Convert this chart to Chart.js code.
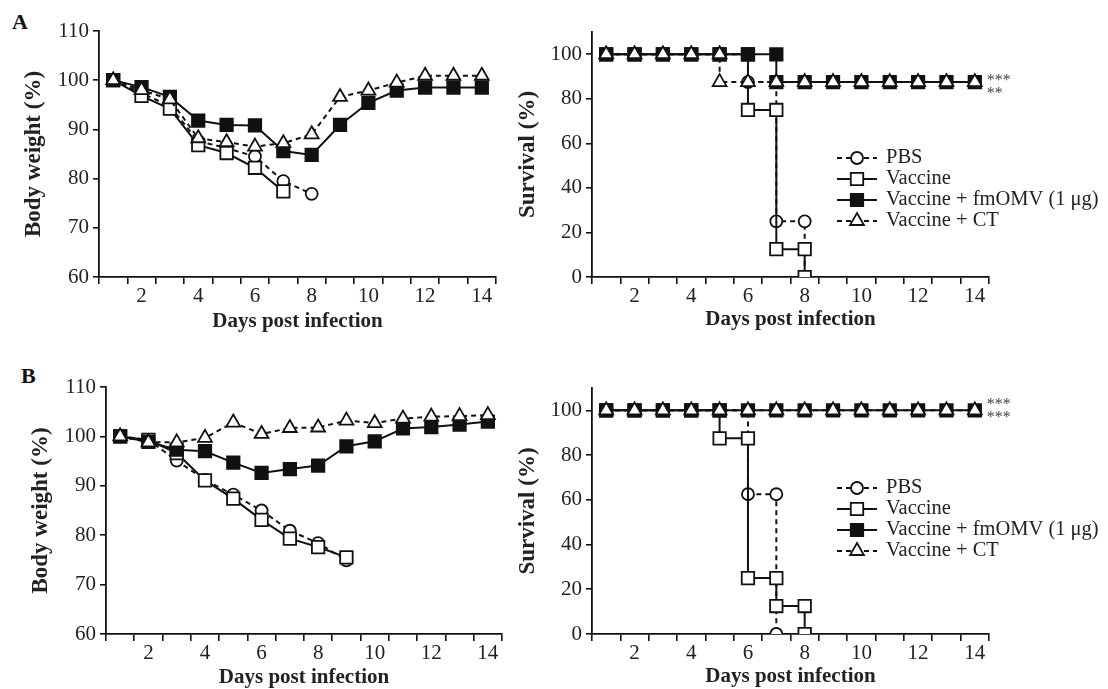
<!DOCTYPE html>
<html>
<head>
<meta charset="utf-8">
<script src="https://cdn.jsdelivr.net/npm/chart.js@4/dist/chart.umd.min.js"></script>
<style>
  body { margin: 0; background: #fff; width: 1108px; height: 689px; position: relative; overflow: hidden; }
  canvas { position: absolute; }
  .panel { position: absolute; font: bold 22px "Liberation Serif", serif; line-height: 22px; color: #111; }
</style>
</head>
<body>
<div class="panel" style="left:12px;top:11px">A</div>
<div class="panel" style="left:21px;top:365px">B</div>
<canvas id="bwA" style="left:0;top:0"></canvas>
<canvas id="svA" style="left:500px;top:0"></canvas>
<canvas id="bwB" style="left:7px;top:356px"></canvas>
<canvas id="svB" style="left:500px;top:356px"></canvas>
<script>
// x categories and which of them carry a label
const dayLabels = ['1', '2', '3', '4', '5', '6', '7', '8', '9', '10', '11', '12', '13', '14'];
const xTickLabels = ['', '2', '', '4', '', '6', '', '8', '', '10', '', '12', '', '14'];
const survivalTicks = [0, 20, 40, 60, 80, 100];

const groupNames = ['PBS', 'Vaccine', 'Vaccine + fmOMV (1 μg)', 'Vaccine + CT'];

// body weight (%), panel A, one value per day from day 1
const bwPbsA = [100, 97.4, 94.7, 87.6, 86.2, 84.5, 79.5, 76.9];
const bwVacA = [100, 96.8, 94.2, 86.8, 85.2, 82.2, 77.4];
const bwFmA  = [100, 98.6, 96.6, 91.8, 90.9, 90.8, 85.6, 84.8, 90.9, 95.4, 97.9, 98.5, 98.5, 98.5];
const bwCtA  = [100, 98.0, 96.1, 88.2, 87.4, 86.5, 87.2, 89.0, 96.6, 97.9, 99.5, 100.9, 100.9, 100.9];

// body weight (%), panel B
const bwPbsB = [100, 99.3, 95.1, 91.2, 88.2, 85.0, 80.9, 78.4, 74.9];
const bwVacB = [100, 99.3, 96.6, 91.1, 87.4, 83.1, 79.3, 77.6, 75.5];
const bwFmB  = [100, 98.9, 97.3, 97.0, 94.7, 92.6, 93.4, 94.1, 98.0, 99.0, 101.6, 101.9, 102.4, 103.0];
const bwCtB  = [100, 98.8, 98.8, 99.7, 102.8, 100.5, 101.7, 101.8, 103.2, 102.7, 103.6, 104.0, 104.1, 104.3];

// survival (%), [day, value]; a drop day appears twice
const svPbsA = [[1, 100], [2, 100], [3, 100], [4, 100], [5, 100], [6, 100], [6, 87.5], [7, 87.5], [7, 25], [8, 25], [8, 0]];
const svVacA = [[1, 100], [2, 100], [3, 100], [4, 100], [5, 100], [6, 100], [6, 75], [7, 75], [7, 12.5], [8, 12.5], [8, 0]];
const svFmA  = [[1, 100], [2, 100], [3, 100], [4, 100], [5, 100], [6, 100], [7, 100], [7, 87.5], [8, 87.5], [9, 87.5], [10, 87.5], [11, 87.5], [12, 87.5], [13, 87.5], [14, 87.5]];
const svCtA  = [[1, 100], [2, 100], [3, 100], [4, 100], [5, 100], [5, 87.5], [6, 87.5], [7, 87.5], [8, 87.5], [9, 87.5], [10, 87.5], [11, 87.5], [12, 87.5], [13, 87.5], [14, 87.5]];

const svPbsB = [[1, 100], [2, 100], [3, 100], [4, 100], [5, 100], [6, 100], [6, 62.5], [7, 62.5], [7, 0]];
const svVacB = [[1, 100], [2, 100], [3, 100], [4, 100], [5, 100], [5, 87.5], [6, 87.5], [6, 25], [7, 25], [7, 12.5], [8, 12.5], [8, 0]];
const svFmB  = [[1, 100], [2, 100], [3, 100], [4, 100], [5, 100], [6, 100], [7, 100], [8, 100], [9, 100], [10, 100], [11, 100], [12, 100], [13, 100], [14, 100]];
const svCtB  = [[1, 100], [2, 100], [3, 100], [4, 100], [5, 100], [6, 100], [7, 100], [8, 100], [9, 100], [10, 100], [11, 100], [12, 100], [13, 100], [14, 100]];

const ink = '#111';
const textColor = '#222';
const serif = '"Liberation Serif", "Times New Roman", serif';
const tickFont = { family: serif, size: 21 };
const xTitleFont = { family: serif, size: 21, weight: 'bold' };
const yTitleFont = { family: serif, size: 23, weight: 'bold' };

const groupStyles = [
    { pointStyle: 'circle', radius: 6.0, fill: '#fff', dash: [5, 4] },
    { pointStyle: 'rect', radius: 8.8, fill: '#fff', dash: [] },
    { pointStyle: 'rect', radius: 8.8, fill: ink, dash: [] },
    { pointStyle: 'triangle', radius: 8.0, fill: '#fff', dash: [5, 4] }
];

function makeSet(i, data) {
    const s = groupStyles[i];
    return {
        label: groupNames[i],
        data: data,
        order: 4 - i,
        borderColor: ink,
        borderWidth: 2,
        borderDash: s.dash,
        backgroundColor: s.fill,
        pointStyle: s.pointStyle,
        pointRadius: s.radius,
        pointHoverRadius: s.radius,
        pointBackgroundColor: s.fill,
        pointBorderColor: ink,
        pointBorderWidth: 1.8,
        tension: 0,
        fill: false
    };
}

function toPoints(pairs) {
    return pairs.map(p => ({ x: String(p[0]), y: p[1] }));
}

// legend and significance marks drawn on top of the survival plots
const extras = {
    id: 'extras',
    afterDatasetsDraw(chart, args, opts) {
        const ctx = chart.ctx;
        if (opts.legend) {
            const L = opts.legend;
            chart.data.datasets.forEach((ds, i) => {
                const y = L.y + i * L.gap;
                ctx.save();
                ctx.strokeStyle = ink;
                ctx.lineWidth = 2;
                ctx.setLineDash(ds.borderDash);
                ctx.beginPath();
                ctx.moveTo(L.x, y);
                ctx.lineTo(L.x + 40, y);
                ctx.stroke();
                ctx.setLineDash([]);
                ctx.fillStyle = ds.pointBackgroundColor;
                ctx.lineWidth = ds.pointBorderWidth;
                Chart.helpers.drawPoint(ctx, {
                    pointStyle: ds.pointStyle, radius: ds.pointRadius,
                    borderWidth: ds.pointBorderWidth, rotation: 0
                }, L.x + 20, y);
                ctx.fillStyle = textColor;
                ctx.font = '20.5px ' + serif;
                ctx.textBaseline = 'middle';
                ctx.fillText(ds.label, L.x + 49, y);
                ctx.restore();
            });
        }
        if (opts.marks) {
            const xs = chart.scales.x, ys = chart.scales.y;
            const x0 = xs.getPixelForValue(dayLabels.length - 1) + 12;
            const y0 = ys.getPixelForValue(opts.markValue);
            ctx.save();
            ctx.fillStyle = '#444';
            ctx.font = '16px ' + serif;
            ctx.textBaseline = 'alphabetic';
            opts.marks.forEach(m => ctx.fillText(m.text, x0, y0 + m.dy));
            ctx.restore();
        }
    }
};

function xAxis(height, titlePad) {
    return {
        type: 'category',
        offset: true,
        grid: { offset: true, drawOnChartArea: false, tickLength: 7, color: ink, lineWidth: 1.6 },
        border: { color: ink, width: 1.8 },
        ticks: {
            autoSkip: false, maxRotation: 0, padding: 0, color: textColor, font: tickFont,
            callback: (v, i) => xTickLabels[i]
        },
        title: { display: true, text: 'Days post infection', color: textColor, font: xTitleFont, padding: { top: 0, bottom: titlePad } },
        afterFit: s => { s.height = height; }
    };
}

function yAxis(text, min, max, step, width, titlePad, tickValues) {
    const axis = {
        min: min,
        max: max,
        grid: { drawOnChartArea: false, tickLength: 6, color: ink, lineWidth: 1.6 },
        border: { color: ink, width: 1.8 },
        ticks: { stepSize: step, padding: 4, color: textColor, font: tickFont },
        title: { display: true, text: text, color: textColor, font: yTitleFont, padding: { top: titlePad, bottom: 0 } },
        afterFit: s => { s.width = width; }
    };
    if (tickValues) {
        axis.afterBuildTicks = s => { s.ticks = tickValues.map(v => ({ value: v })); };
    }
    return axis;
}

function makeChart(id, w, h, datasets, pad, xA, yA, extraOpts) {
    const canvas = document.getElementById(id);
    canvas.width = w;
    canvas.height = h;
    return new Chart(canvas.getContext('2d'), {
        type: 'line',
        data: { labels: dayLabels, datasets: datasets },
        options: {
            responsive: false,
            animation: false,
            layout: { padding: pad },
            scales: { x: xA, y: yA },
            plugins: {
                legend: { display: false },
                tooltip: { enabled: false },
                extras: extraOpts || {}
            }
        },
        plugins: [extras]
    });
}

makeChart('bwA', 510, 340,
    [makeSet(0, bwPbsA), makeSet(1, bwVacA), makeSet(2, bwFmA), makeSet(3, bwCtA)],
    { left: 0, right: 14, top: 31, bottom: 0 },
    xAxis(63, 6),
    yAxis('Body weight (%)', 60, 110, 10, 99, 20));

makeChart('svA', 608, 340,
    [makeSet(0, toPoints(svPbsA)), makeSet(1, toPoints(svVacA)), makeSet(2, toPoints(svFmA)), makeSet(3, toPoints(svCtA))],
    { left: 0, right: 119, top: 32, bottom: 0 },
    xAxis(63, 8),
    yAxis('Survival (%)', 0, 110, 20, 92, 14, survivalTicks),
    { legend: { x: 337, y: 158, gap: 21 }, markValue: 87.5, marks: [{ text: '***', dy: 2.5 }, { text: '**', dy: 15.5 }] });

makeChart('bwB', 510, 340,
    [makeSet(0, bwPbsB), makeSet(1, bwVacB), makeSet(2, bwFmB), makeSet(3, bwCtB)],
    { left: 0, right: 15, top: 31, bottom: 0 },
    xAxis(62, 6),
    yAxis('Body weight (%)', 60, 110, 10, 99, 20));

makeChart('svB', 608, 340,
    [makeSet(0, toPoints(svPbsB)), makeSet(1, toPoints(svVacB)), makeSet(2, toPoints(svFmB)), makeSet(3, toPoints(svCtB))],
    { left: 0, right: 119, top: 32, bottom: 0 },
    xAxis(62, 7),
    yAxis('Survival (%)', 0, 110, 20, 92, 14, survivalTicks),
    { legend: { x: 337, y: 132, gap: 21 }, markValue: 100, marks: [{ text: '***', dy: -1.5 }, { text: '***', dy: 11.5 }] });
</script>
</body>
</html>
